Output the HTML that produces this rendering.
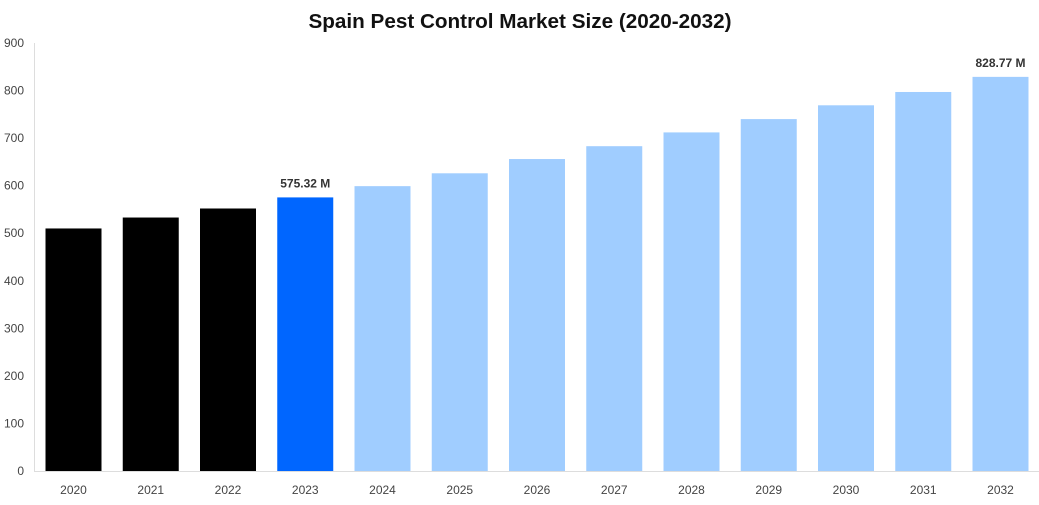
<!DOCTYPE html>
<html><head><meta charset="utf-8"><style>
body{margin:0;background:#fff;font-family:"Liberation Sans",sans-serif}
</style></head><body>
<svg id="c" width="1039" height="500">
<text x="520" y="28" text-anchor="middle" font-size="20.7" font-weight="bold" fill="#111">Spain Pest Control Market Size (2020-2032)</text>
<line x1="34.5" y1="43" x2="34.5" y2="471" stroke="#ddd"/>
<line x1="34" y1="471.5" x2="1039" y2="471.5" stroke="#ddd"/>
<g id="g"></g>
</svg>
<script>
const categories=["2020","2021","2022","2023","2024","2025","2026","2027","2028","2029","2030","2031","2032"];
const values=[510,533,552,575.32,599,626,656,683,712,740,769,797,828.77];
const colors=["#000","#000","#000","#0066ff","#a0cdff","#a0cdff","#a0cdff","#a0cdff","#a0cdff","#a0cdff","#a0cdff","#a0cdff","#a0cdff"];
const labels=[null,null,null,"575.32 M",null,null,null,null,null,null,null,null,"828.77 M"];
const yTicks=[0,100,200,300,400,500,600,700,800,900];
const ns="http://www.w3.org/2000/svg",g=document.getElementById('g');
const y=v=>471-v*(428/900);
const xc=i=>73.5+i*77.25;
function mk(t,a){const e=document.createElementNS(ns,t);for(const k in a)e.setAttribute(k,a[k]);g.appendChild(e);return e;}
yTicks.forEach(v=>{const t=mk('text',{x:24,y:y(v)+4,'text-anchor':'end','font-size':12,fill:'#444'});t.textContent=v;

});
categories.forEach((c,i)=>{
const r=mk('rect',{x:xc(i)-28,y:y(values[i]),width:56,height:471-y(values[i]),fill:colors[i]});


const t=mk('text',{x:xc(i),y:494,'text-anchor':'middle','font-size':12,fill:'#444'});t.textContent=c;


if(labels[i]){const l=mk('text',{x:xc(i),y:y(values[i])-10,'text-anchor':'middle','font-size':12,'font-weight':'bold',fill:'#333'});l.textContent=labels[i];

}
});
</script>
</body></html>
